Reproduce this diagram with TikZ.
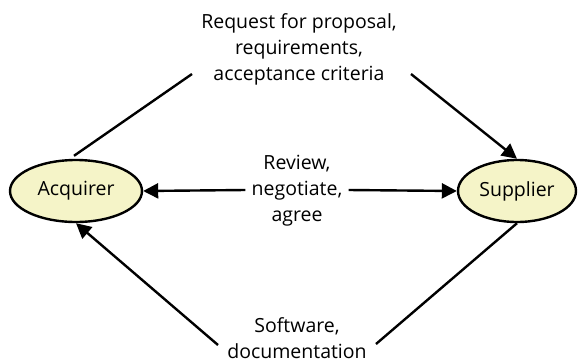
\documentclass[tikz,border=0pt]{standalone}
\usepackage{fontspec}
\setmainfont{Open Sans}
\usetikzlibrary{arrows.meta,shapes.geometric}
\definecolor{ellfill}{RGB}{245,244,200}
\tikzset{
  party/.style={ellipse, draw=black, line width=2.4pt, fill=ellfill, inner sep=0pt, font=\fontsize{19.5}{26}\selectfont},
  lbl/.style={align=center, inner sep=0pt, font=\fontsize{19.5}{26}\selectfont},
  conn/.style={line width=2.4pt, draw=black},
  tip/.style={-{Triangle[length=15pt,width=15pt]}}
}
\begin{document}
\begin{tikzpicture}[x=1pt,y=-1pt]
\useasboundingbox (0,0) rectangle (580,362);
\node[party, minimum width=132pt, minimum height=62pt] (acq) at (76,191) {Acquirer};
\node[party, minimum width=118pt, minimum height=62pt] (sup) at (517,191) {Supplier};
\node[lbl] (top) at (299,49) {Request for proposal,\\requirements,\\acceptance criteria};
\node[lbl] (mid) at (297,191) {Review,\\negotiate,\\agree};
\node[lbl] (bot) at (297,338) {Software,\\documentation};
\coordinate (tl) at (192,74);
\coordinate (tr) at (411,74);
\coordinate (bl) at (218,345);
\coordinate (br) at (376,344);
\draw[conn] (acq.north) ++(-2,-3) coordinate (an) -- (tl);
\draw[conn, tip] (tr) -- (sup.north);
\draw[conn, tip] (bl) -- (acq.south);
\draw[conn] (br) -- (sup.south);
\draw[conn, tip] (mid.west) ++(-6,-1) coordinate (mw) -- (acq.east);
\draw[conn, tip] (mid.east) ++(6,-1) coordinate (me) -- (sup.west);
\end{tikzpicture}
\end{document}
